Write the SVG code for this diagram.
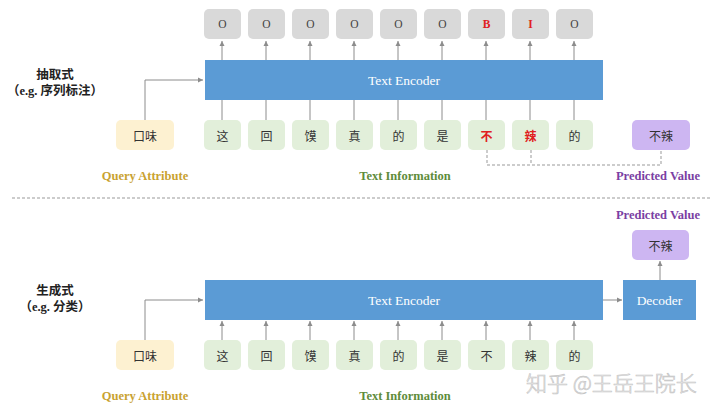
<svg xmlns="http://www.w3.org/2000/svg" width="720" height="413" viewBox="0 0 720 413">
<defs>
<marker id="ah" markerWidth="6" markerHeight="6" refX="5" refY="3" orient="auto" markerUnits="userSpaceOnUse">
<path d="M0,0.5 L5,3 L0,5.5 Z" fill="#8c8c8c"/>
</marker>
<style>
.out{fill:#d9d9d9}
.inp{fill:#e2efda}
.qa{fill:#fdf1d1}
.pv{fill:#cdb6f2}
.enc{fill:#5b9bd5}
.t{font-family:"Liberation Serif","Noto Sans CJK SC",serif;font-size:11.5px;fill:#444;text-anchor:middle;dominant-baseline:central}
.cjk{font-family:"Noto Sans CJK SC",sans-serif;font-size:12px;fill:#333;text-anchor:middle;dominant-baseline:central}
.red{fill:#e02020;font-weight:bold}
.et{font-family:"Liberation Serif",serif;font-size:13.5px;fill:#fff;text-anchor:middle;dominant-baseline:central}
.lbl{font-family:"Liberation Serif",serif;font-size:12.5px;font-weight:bold;text-anchor:middle;dominant-baseline:central}
.side{font-family:"Liberation Serif","Noto Sans CJK SC",serif;font-size:12.5px;font-weight:bold;fill:#222;text-anchor:middle;dominant-baseline:central}
.ln{stroke:#8c8c8c;stroke-width:1;fill:none}
.dl{stroke:#999;stroke-width:1;fill:none;stroke-dasharray:3,2}
</style>
</defs>
<rect width="720" height="413" fill="#fff"/>

<!-- side labels -->
<text class="side" x="55" y="75">抽取式</text>
<text class="side" x="55" y="91">（e.g. 序列标注）</text>
<text class="side" x="55" y="291">生成式</text>
<text class="side" x="55" y="307">（e.g. 分类）</text>

<!-- separator -->
<line x1="12" y1="198" x2="712" y2="198" stroke="#999" stroke-width="1" stroke-dasharray="3,2"/>

<!-- connectors -->
<g id="connectors">
<path class="ln" d="M145,120 V80 H203" marker-end="url(#ah)"/>
<path class="ln" d="M222,60 V41" marker-end="url(#ah)"/>
<path class="ln" d="M266,60 V41" marker-end="url(#ah)"/>
<path class="ln" d="M310,60 V41" marker-end="url(#ah)"/>
<path class="ln" d="M354,60 V41" marker-end="url(#ah)"/>
<path class="ln" d="M398,60 V41" marker-end="url(#ah)"/>
<path class="ln" d="M442,60 V41" marker-end="url(#ah)"/>
<path class="ln" d="M486,60 V41" marker-end="url(#ah)"/>
<path class="ln" d="M530,60 V41" marker-end="url(#ah)"/>
<path class="ln" d="M574,60 V41" marker-end="url(#ah)"/>
<path class="ln" d="M222,120 V100 M266,120 V100 M310,120 V100 M354,120 V100 M398,120 V100 M442,120 V100 M486,120 V100 M530,120 V100 M574,120 V100"/>
<path class="dl" d="M487,150 V165 H661 V150 M531,150 V165"/>

<path class="ln" d="M145,340 V300 H203" marker-end="url(#ah)"/>
<path class="ln" d="M222,340 V321" marker-end="url(#ah)"/>
<path class="ln" d="M266,340 V321" marker-end="url(#ah)"/>
<path class="ln" d="M310,340 V321" marker-end="url(#ah)"/>
<path class="ln" d="M354,340 V321" marker-end="url(#ah)"/>
<path class="ln" d="M398,340 V321" marker-end="url(#ah)"/>
<path class="ln" d="M442,340 V321" marker-end="url(#ah)"/>
<path class="ln" d="M486,340 V321" marker-end="url(#ah)"/>
<path class="ln" d="M530,340 V321" marker-end="url(#ah)"/>
<path class="ln" d="M574,340 V321" marker-end="url(#ah)"/>
<path class="ln" d="M603,300 H622" marker-end="url(#ah)"/>
<path class="ln" d="M660,280 V261" marker-end="url(#ah)"/>
</g>

<!-- top section -->
<g id="out-top">
<rect class="out" x="204" y="9" width="37" height="30" rx="5"/><text class="t" x="222.5" y="24">O</text>
<rect class="out" x="248" y="9" width="37" height="30" rx="5"/><text class="t" x="266.5" y="24">O</text>
<rect class="out" x="292" y="9" width="37" height="30" rx="5"/><text class="t" x="310.5" y="24">O</text>
<rect class="out" x="336" y="9" width="37" height="30" rx="5"/><text class="t" x="354.5" y="24">O</text>
<rect class="out" x="380" y="9" width="37" height="30" rx="5"/><text class="t" x="398.5" y="24">O</text>
<rect class="out" x="424" y="9" width="37" height="30" rx="5"/><text class="t" x="442.5" y="24">O</text>
<rect class="out" x="468" y="9" width="37" height="30" rx="5"/><text class="t red" x="486.5" y="24">B</text>
<rect class="out" x="512" y="9" width="37" height="30" rx="5"/><text class="t red" x="530.5" y="24">I</text>
<rect class="out" x="556" y="9" width="37" height="30" rx="5"/><text class="t" x="574.5" y="24">O</text>
</g>
<g id="encoder-top">
<rect class="enc" x="205" y="60" width="398" height="40"/>
<text class="et" x="404" y="80">Text Encoder</text>
</g>
<g id="query-top">
<rect class="qa" x="116" y="120" width="58" height="30" rx="5"/>
<text class="cjk" x="145" y="135">口味</text>
</g>
<g id="text-top">
<rect class="inp" x="204" y="120" width="37" height="30" rx="5"/><text class="cjk" x="222.5" y="135">这</text>
<rect class="inp" x="248" y="120" width="37" height="30" rx="5"/><text class="cjk" x="266.5" y="135">回</text>
<rect class="inp" x="292" y="120" width="37" height="30" rx="5"/><text class="cjk" x="310.5" y="135">馍</text>
<rect class="inp" x="336" y="120" width="37" height="30" rx="5"/><text class="cjk" x="354.5" y="135">真</text>
<rect class="inp" x="380" y="120" width="37" height="30" rx="5"/><text class="cjk" x="398.5" y="135">的</text>
<rect class="inp" x="424" y="120" width="37" height="30" rx="5"/><text class="cjk" x="442.5" y="135">是</text>
<rect class="inp" x="468" y="120" width="37" height="30" rx="5"/><text class="cjk red" x="486.5" y="135">不</text>
<rect class="inp" x="512" y="120" width="37" height="30" rx="5"/><text class="cjk red" x="530.5" y="135">辣</text>
<rect class="inp" x="556" y="120" width="37" height="30" rx="5"/><text class="cjk" x="574.5" y="135">的</text>
</g>
<g id="pred-top">
<rect class="pv" x="632" y="120" width="58" height="30" rx="5"/>
<text class="cjk" x="661" y="135">不辣</text>
</g>
<text class="lbl" x="145" y="176" fill="#c9a230">Query Attribute</text>
<text class="lbl" x="405" y="176" fill="#5e8c3a">Text Information</text>
<text class="lbl" x="658" y="176" fill="#7b3fa3">Predicted Value</text>

<!-- bottom section -->
<g id="encoder-bot">
<rect class="enc" x="205" y="280" width="398" height="40"/>
<text class="et" x="404" y="300">Text Encoder</text>
</g>
<g id="decoder">
<rect class="enc" x="623" y="280" width="73" height="40"/>
<text class="et" x="659.5" y="300">Decoder</text>
</g>
<g id="pred-bot">
<rect class="pv" x="632" y="230" width="57" height="30" rx="5"/>
<text class="cjk" x="660.5" y="245">不辣</text>
</g>
<text class="lbl" x="658" y="215" fill="#7b3fa3">Predicted Value</text>
<g id="query-bot">
<rect class="qa" x="116" y="340" width="58" height="30" rx="5"/>
<text class="cjk" x="145" y="355">口味</text>
</g>
<g id="text-bot">
<rect class="inp" x="204" y="340" width="37" height="30" rx="5"/><text class="cjk" x="222.5" y="355">这</text>
<rect class="inp" x="248" y="340" width="37" height="30" rx="5"/><text class="cjk" x="266.5" y="355">回</text>
<rect class="inp" x="292" y="340" width="37" height="30" rx="5"/><text class="cjk" x="310.5" y="355">馍</text>
<rect class="inp" x="336" y="340" width="37" height="30" rx="5"/><text class="cjk" x="354.5" y="355">真</text>
<rect class="inp" x="380" y="340" width="37" height="30" rx="5"/><text class="cjk" x="398.5" y="355">的</text>
<rect class="inp" x="424" y="340" width="37" height="30" rx="5"/><text class="cjk" x="442.5" y="355">是</text>
<rect class="inp" x="468" y="340" width="37" height="30" rx="5"/><text class="cjk" x="486.5" y="355">不</text>
<rect class="inp" x="512" y="340" width="37" height="30" rx="5"/><text class="cjk" x="530.5" y="355">辣</text>
<rect class="inp" x="556" y="340" width="37" height="30" rx="5"/><text class="cjk" x="574.5" y="355">的</text>
</g>
<text class="lbl" x="145" y="396" fill="#c9a230">Query Attribute</text>
<text class="lbl" x="405" y="396" fill="#5e8c3a">Text Information</text>

<!-- watermark -->
<text x="526" y="382" font-family="Noto Sans CJK SC, sans-serif" font-size="21" font-weight="300" fill="#f2f2f2" stroke="#c4c4c4" stroke-width="0.6" dominant-baseline="central">知乎 @王岳王院长</text>
</svg>
